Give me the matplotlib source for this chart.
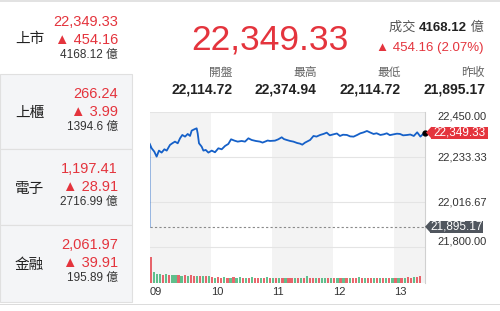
import numpy as np
import matplotlib
matplotlib.use("Agg")
import matplotlib.pyplot as plt
from matplotlib.patches import Rectangle, Polygon

plt.rcParams['font.family'] = ['Liberation Sans', 'Noto Sans CJK TC', 'DejaVu Sans']

W, H = 500, 311
RED = '#e4343d'
GREEN = '#2fae6a'
BLUE = '#1560c8'

# ---- data ----
index_name = '上市'
last_price = 22349.33
change = 454.16
change_pct = 2.07
turnover = '4168.12'
open_p, high_p, low_p, prev_close = 22114.72, 22374.94, 22114.72, 21895.17

sectors = ['上市', '上櫃', '電子', '金融']
sector_values = ['22,349.33', '266.24', '1,197.41', '2,061.97']
sector_changes = ['454.16', '3.99', '28.91', '39.91']
sector_turnover = ['4168.12', '1394.6', '2716.99', '195.89']

# minutes after 09:00
minutes = [0, 0, 2.1, 4.7, 7.0, 9.3, 11.9, 14.6, 16.9, 20.1, 22.4, 25.0, 27.7,
           30.0, 32.2, 34.9, 37.5, 39.8, 41.4, 44.0, 46.3, 47.3, 48.6, 51.2,
           52.9, 55.2, 57.8, 61.1, 64.3, 67.6, 70.9, 74.2, 77.4, 80.1, 83.4,
           86.6, 90.5, 93.8, 97.1, 100.3, 104.3, 108.5, 111.0, 113.4, 116.0,
           118.3, 123.2, 126.5, 129.8, 132.0, 134.7, 138.0, 141.3, 145.0,
           147.8, 150.0, 152.7, 157.7, 161.0, 164.0, 167.5, 171.0, 174.0,
           177.0, 180.7, 184.0, 187.0, 190.0, 193.8, 197.0, 200.4, 204.0,
           207.0, 210.0, 213.5, 217.0, 220.0, 223.0, 226.7, 230.0, 233.0,
           236.0, 239.8, 243.0, 246.0, 249.0, 253.0, 256.0, 259.5, 262.8,
           266.0, 270.0]
prices = [21895.17, 22297.7, 22273.6, 22257.6, 22233.5, 22262.4, 22252.8,
          22268.8, 22262.4, 22289.7, 22297.7, 22305.7, 22297.7, 22321.8,
          22337.8, 22329.8, 22342.6, 22333.0, 22358.7, 22365.1, 22369.9,
          22345.8, 22297.7, 22281.6, 22262.4, 22265.6, 22252.8, 22262.4,
          22254.4, 22273.6, 22268.8, 22284.9, 22294.5, 22317.0, 22310.5,
          22305.7, 22308.9, 22305.7, 22321.8, 22313.7, 22308.9, 22305.7,
          22301.0, 22305.7, 22311.0, 22308.9, 22310.5, 22317.0, 22326.6,
          22318.0, 22313.7, 22309.0, 22305.7, 22299.0, 22296.0, 22291.0,
          22300.9, 22313.7, 22333.0, 22330.0, 22337.8, 22343.0, 22349.0,
          22336.0, 22341.0, 22345.0, 22333.0, 22339.0, 22337.8, 22331.0,
          22329.8, 22338.0, 22345.8, 22350.0, 22357.0, 22349.0, 22342.6,
          22346.0, 22337.8, 22341.0, 22345.8, 22337.0, 22341.0, 22344.0,
          22342.6, 22336.0, 22337.8, 22340.0, 22333.0, 22350.6, 22329.8,
          22349.33]

# volume, one bar per 3 minutes, last one is the closing auction
volume = [80, 34, 28, 27, 25, 26, 24, 25, 23, 24,
          22, 23, 21, 24, 20, 22, 21, 20, 22, 21,
          17, 16, 17, 16, 18, 16, 15, 17, 16, 19, 15, 16, 15, 17, 16, 15, 16, 15, 17, 15,
          15, 14, 16, 15, 14, 15, 16, 15, 14, 15, 15, 20, 15, 16, 15, 14, 16, 15, 14, 15,
          15, 14, 15, 16, 14, 15, 15, 14, 18, 15, 14, 15, 16, 15, 14, 15, 16, 15, 14, 15,
          15, 14, 16, 15, 17, 16, 18, 19, 20]
vol_colors = ("rgggrgrggr" "grgrrgrgrg" "rgrrgrgrgg" "rgrgrrgrgr"
              "grgrgrrgrg" "rgrrgrggrg" "rgrgrgrrgr" "grrgrgrgrg" "rgrgrrgrr")
close_volume = 100

price_ticks = [22450.00, 22233.33, 22016.67, 21800.00]
hour_labels = ['09', '10', '11', '12', '13']


def fx(x):
    return x / W


def fy(y):
    return 1 - y / H


fig = plt.figure(figsize=(W / 100, H / 100), dpi=100)
fig.patch.set_facecolor('white')

# ---- left panel ----
fig.add_artist(Rectangle((0, fy(2)), 1, 2 / H, transform=fig.transFigure,
                         fc='#e2e2e2', ec='none'))
fig.add_artist(Rectangle((0, fy(305)), 1, 1.2 / H, transform=fig.transFigure,
                         fc='#dcdcdc', ec='none'))
row_top = [2, 74, 149, 225]
row_bot = [74, 149, 225, 302]
for i in range(4):
    if i > 0:
        fig.add_artist(Rectangle((0, fy(row_bot[i])), fx(132),
                                 (row_bot[i] - row_top[i]) / H,
                                 transform=fig.transFigure, fc='#f4f5f7',
                                 ec='#e0e0e0', lw=0.8))
    yc = (row_top[i] + row_bot[i]) / 2
    fig.text(fx(15), fy(yc + 1.5), sectors[i], fontsize=10.5, color='#222222',
             va='center', ha='left')
    fig.text(fx(118), fy(row_top[i] + 20), sector_values[i], fontsize=10.5,
             color=RED, va='center', ha='right')
    fig.text(fx(118), fy(row_top[i] + 38), '▲ ' + sector_changes[i],
             fontsize=10.5, color=RED, va='center', ha='right')
    fig.text(fx(118), fy(row_top[i] + 53.5), sector_turnover[i] + ' 億',
             fontsize=8.5, color='#333333', va='center', ha='right')

# ---- header ----
fig.text(fx(270), fy(40), f'{last_price:,.2f}', fontsize=25.5, color=RED,
         ha='center', va='center')

renderer = fig.canvas.get_renderer()


def right_chain(parts, x_right, y, **kw):
    # place texts right to left so the chain ends at x_right
    x = x_right
    for s, extra in reversed(parts):
        t = fig.text(fx(x), fy(y), s, ha='right', va='center', **kw, **extra)
        w = t.get_window_extent(renderer).width
        x -= w


right_chain([('成交 ', {'color': '#555555'}),
             (turnover, {'color': '#222222', 'fontweight': 'bold'}),
             (' 億', {'color': '#555555'})], 484, 28, fontsize=9.5)
fig.text(fx(484), fy(47.5), f'▲ {change:.2f} ({change_pct:.2f}%)', fontsize=9.5,
         color=RED, ha='right', va='center')

stat_names = ['開盤', '最高', '最低', '昨收']
stat_vals = [open_p, high_p, low_p, prev_close]
stat_x = [233, 316.5, 401, 485]
for name, val, x in zip(stat_names, stat_vals, stat_x):
    fig.text(fx(x), fy(73), name, fontsize=8.5, color='#666666', ha='right',
             va='center')
    fig.text(fx(x), fy(89), f'{val:,.2f}', fontsize=10, fontweight='bold',
             color='#222222', ha='right', va='center')

# ---- chart ----
top, bot, left, right = 111.7, 283, 149.5, 424.5
ax = fig.add_axes([fx(left), fy(bot), (right - left) / W, (bot - top) / H])
ax.set_xlim(0, 270)
ymax = 22450
ymin = ymax - (bot - top) * (ymax - 21800) / (246.5 - top)
ax.set_ylim(ymin, ymax)
for a, b in [(0, 60), (120, 180), (240, 270)]:
    ax.axvspan(a, b, color='#f3f3f3', lw=0, zorder=0)
for v in price_ticks:
    ax.axhline(v, color='#e4e4e4', lw=0.8, zorder=1)
ax.axhline(prev_close, color='#8a8a8a', lw=0.8, ls=(0, (2, 2)), zorder=2)
ax.plot(minutes, prices, color=BLUE, lw=1.3, zorder=3)
ax.plot(minutes[-1], prices[-1], 'o', color='black', ms=3.5, zorder=4,
        clip_on=False)
for s in ['top', 'left', 'bottom']:
    ax.spines[s].set_visible(False)
ax.spines['right'].set_color('#d0d0d0')
ax.spines['right'].set_linewidth(0.8)

ax.yaxis.tick_right()
ax.set_yticks(price_ticks)
ax.set_yticklabels([f'{v:,.2f}' for v in price_ticks])
ax.tick_params(axis='y', length=0, pad=9, labelsize=8, labelcolor='#333333')
ylabels = ax.get_yticklabels()
ylabels[0].set_va('top')
ylabels[-1].set_va('bottom')

ax.set_xticks([0, 60, 120, 180, 240])
ax.set_xticklabels(hour_labels)
ax.tick_params(axis='x', length=0, pad=3, labelsize=8, labelcolor='#333333')
for lab in ax.get_xticklabels():
    lab.set_ha('left')

# volume
vax = fig.add_axes([fx(left), fy(bot), (right - left) / W, 33 / H])
vax.set_xlim(0, 270)
vax.set_ylim(0, 100)
vx = [1.5 + 3 * i for i in range(len(volume))]
cols = [RED if c == 'r' else GREEN for c in vol_colors]
vax.bar(vx, volume, width=2.2, color=cols, alpha=0.75, lw=0)
vax.bar([269.6], [close_volume], width=0.6, color=RED, alpha=0.6, lw=0)
vax.axis('off')
vax.patch.set_alpha(0)

# price tags on the right axis
to_fig = fig.transFigure.inverted()


def tag(value, color, x0, x1):
    yd = ax.transData.transform((270, value))[1]
    y = H - to_fig.transform((0, yd))[1] * H
    h = 6
    body = Rectangle((fx(x0 + 5), fy(y + h)), (x1 - x0 - 5) / W, 2 * h / H,
                     transform=fig.transFigure, fc=color, ec='none',
                     zorder=10)
    head = Polygon([(fx(x0), fy(y)), (fx(x0 + 5.5), fy(y - h)),
                    (fx(x0 + 5.5), fy(y + h))], closed=True,
                   transform=fig.transFigure, fc=color, ec='none', zorder=10)
    fig.add_artist(body)
    fig.add_artist(head)
    fig.text(fx((x0 + 5 + x1) / 2), fy(y), f'{value:,.2f}', fontsize=8.5,
             color='white', ha='center', va='center', zorder=11)


tag(last_price, RED, 426, 488)
tag(prev_close, '#50565e', 425, 483)

fig.savefig('out.png', dpi=100)
